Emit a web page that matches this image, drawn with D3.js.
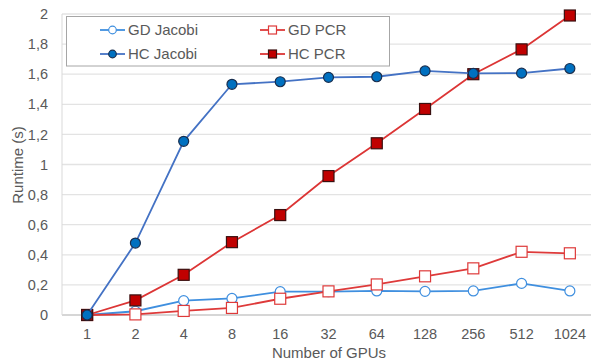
<!DOCTYPE html>
<html>
<head>
<meta charset="utf-8">
<script src="https://cdn.jsdelivr.net/npm/d3@7"></script>
<style>
  body { margin: 0; background: #fff; }
  text { font-family: Arial, "Liberation Sans", sans-serif; fill: #595959; }
</style>
</head>
<body>
<script>
// chart data
var gpus = ["1", "2", "4", "8", "16", "32", "64", "128", "256", "512", "1024"];
var gdJacobi = [0, 0.025, 0.095, 0.11, 0.155, 0.155, 0.16, 0.157, 0.16, 0.21, 0.16];
var gdPcr = [0, 0.004, 0.027, 0.047, 0.108, 0.157, 0.203, 0.257, 0.31, 0.42, 0.41];
var hcJacobi = [0, 0.478, 1.154, 1.533, 1.55, 1.579, 1.583, 1.622, 1.606, 1.607, 1.638];
var hcPcr = [0, 0.097, 0.267, 0.484, 0.664, 0.923, 1.141, 1.369, 1.6, 1.765, 1.99];
var yTicks = [0, 0.2, 0.4, 0.6, 0.8, 1, 1.2, 1.4, 1.6, 1.8, 2];

var width = 591, height = 362;

var svg = d3.select("body").append("svg")
    .attr("width", width)
    .attr("height", height);

var x = d3.scaleBand().domain(gpus).range([63, 594]).padding(0);
var y = d3.scaleLinear().domain([0, 2]).range([315, 14]);
var cx = function(d) { return x(d) + x.bandwidth() / 2; };

// gridlines
svg.append("g").selectAll("line").data(yTicks.slice(1)).enter().append("line")
    .attr("x1", 62).attr("x2", width)
    .attr("y1", function(d) { return y(d); }).attr("y2", function(d) { return y(d); })
    .attr("stroke", "#e3e3e3").attr("stroke-width", 1.3);

// axes lines
svg.append("line").attr("x1", 62).attr("x2", width).attr("y1", y(0)).attr("y2", y(0))
    .attr("stroke", "#c8c8c8").attr("stroke-width", 1.3);
svg.append("line").attr("x1", 62).attr("x2", 62).attr("y1", y(2)).attr("y2", y(0))
    .attr("stroke", "#d9d9d9").attr("stroke-width", 1);

// y tick labels
var yAxis = svg.append("g").attr("transform", "translate(62,0)")
    .call(d3.axisLeft(y).tickValues(yTicks).tickSize(0).tickPadding(14)
        .tickFormat(function(d) { return String(d).replace(".", ","); }));
yAxis.select(".domain").remove();
yAxis.selectAll("text").attr("font-size", 14.5).style("font-family", null).attr("fill", null);

// x tick labels
var xAxis = svg.append("g").attr("transform", "translate(0," + y(0) + ")")
    .call(d3.axisBottom(x).tickSize(0).tickPadding(14));
xAxis.select(".domain").remove();
xAxis.selectAll("text").attr("font-size", 14.5).style("font-family", null).attr("fill", null);

// axis titles
svg.append("text").attr("x", 329).attr("y", 358).attr("text-anchor", "middle")
    .attr("font-size", 15).text("Number of GPUs");
svg.append("text").attr("transform", "translate(23,165) rotate(-90)").attr("text-anchor", "middle")
    .attr("font-size", 15).text("Runtime (s)");

var series = [
    { name: "GD Jacobi", values: gdJacobi, line: "#3f8fdf", shape: "circle", fill: "#fff", stroke: "#3f8fdf" },
    { name: "GD PCR", values: gdPcr, line: "#de3a3a", shape: "square", fill: "#fff", stroke: "#de3a3a" },
    { name: "HC PCR", values: hcPcr, line: "#dc3535", shape: "square", fill: "#c00000", stroke: "#3a1010" },
    { name: "HC Jacobi", values: hcJacobi, line: "#4472c4", shape: "circle", fill: "#0070c0", stroke: "#1a2f4f" }
];

var line = d3.line()
    .x(function(d, i) { return cx(gpus[i]); })
    .y(function(d) { return y(d); });

function marker(g, s, px, py, r) {
    if (s.shape === "circle") {
        g.append("circle").attr("cx", px).attr("cy", py).attr("r", r)
            .attr("fill", s.fill).attr("stroke", s.stroke).attr("stroke-width", 1.2);
    } else {
        g.append("rect").attr("x", px - r).attr("y", py - r).attr("width", 2 * r).attr("height", 2 * r)
            .attr("fill", s.fill).attr("stroke", s.stroke).attr("stroke-width", 1.2);
    }
}

series.forEach(function(s) {
    var g = svg.append("g");
    g.append("path").datum(s.values).attr("d", line)
        .attr("fill", "none").attr("stroke", s.line).attr("stroke-width", 1.8);
    s.values.forEach(function(v, i) {
        marker(g, s, cx(gpus[i]), y(v), s.shape === "circle" ? 5 : 5.5);
    });
});

// legend
var legend = svg.append("g");
legend.append("rect").attr("x", 66.5).attr("y", 16.5).attr("width", 323).attr("height", 49.5)
    .attr("fill", "#fff").attr("stroke", "#a6a6a6").attr("stroke-width", 1);
var legendItems = [
    { s: series[0], x: 100, y: 30 },
    { s: series[1], x: 260, y: 30 },
    { s: series[3], x: 100, y: 54 },
    { s: series[2], x: 260, y: 54 }
];
legendItems.forEach(function(it) {
    legend.append("line").attr("x1", it.x).attr("x2", it.x + 25).attr("y1", it.y).attr("y2", it.y)
        .attr("stroke", it.s.line).attr("stroke-width", 1.8);
    marker(legend, it.s, it.x + 12.5, it.y, it.s.shape === "circle" ? 3.8 : 4);
    legend.append("text").attr("x", it.x + 28).attr("y", it.y).attr("dy", "0.35em")
        .attr("font-size", 15).text(it.s.name);
});
</script>
</body>
</html>
